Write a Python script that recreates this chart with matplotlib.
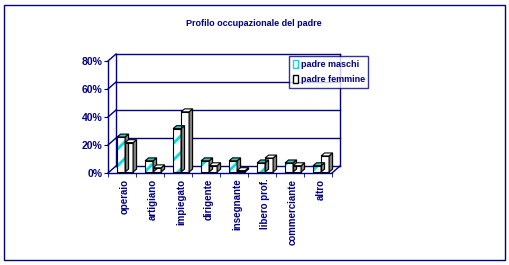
import matplotlib
matplotlib.use('Agg')
import matplotlib.pyplot as plt
from matplotlib.patches import Polygon, Rectangle, Patch

### DATA

categorie = ['operaio', 'artigiano', 'impiegato', 'dirigente', 'insegnante',
             'libero prof.', 'commerciante', 'altro']
padre_maschi = [25, 8, 31, 8, 8, 6.5, 6.5, 4.5]
padre_femmine = [21, 3, 43, 4.5, 1, 10, 4.5, 11.5]
yticks = [0, 20, 40, 60, 80]
ylabels = ['0%', '20%', '40%', '60%', '80%']
titolo = 'Profilo occupazionale del padre'
serie = ['padre maschi', 'padre femmine']

### STYLE

navy = '#000080'
plt.rcParams['font.family'] = ['Liberation Sans', 'DejaVu Sans']
plt.rcParams['font.weight'] = 'bold'
plt.rcParams['hatch.linewidth'] = 2.0

W, H = 509, 265
fig = plt.figure(figsize=(W / 100, H / 100), dpi=100)
fig.patches.append(Rectangle((4 / W, 5 / H), 501 / W, 255 / H, transform=fig.transFigure,
                             fill=False, edgecolor=navy, lw=1))

ax = fig.add_axes([108 / W, 1 - 173 / H, 224 / W, 112 / H])
ax.set_xlim(0, len(categorie))
ax.set_ylim(0, 80)
ax.patch.set_visible(False)

# depth of the fake 3D box (data units)
dx, dy = 8 / 28, 7 / 1.4
n = len(categorie)

# back wall, grid and side wall connectors
for y in yticks:
    ax.plot([dx, n + dx], [y + dy, y + dy], color=navy, lw=1, clip_on=False, zorder=1)
    ax.plot([0, dx], [y, y + dy], color=navy, lw=1, clip_on=False, zorder=1)
ax.plot([dx, dx], [dy, 80 + dy], color=navy, lw=1, clip_on=False, zorder=1)
ax.plot([n + dx, n + dx], [dy, 80 + dy], color=navy, lw=1, clip_on=False, zorder=1)
ax.plot([n, n + dx], [0, dy], color=navy, lw=1, clip_on=False, zorder=1)

# bars
w = 0.286
bdx, bdy = 0.125, 2.1
base = 0.7


def bar3d(x, h, hatched):
    if hatched:
        ax.bar(x, h, width=w, bottom=base, align='edge', color='white',
               edgecolor='#00e0e0', hatch='//', lw=0, zorder=3)
    else:
        ax.bar(x, h, width=w, bottom=base, align='edge', color='white', lw=0, zorder=3)
    ax.bar(x, h, width=w, bottom=base, align='edge', fill=False,
           edgecolor='black', lw=0.8, zorder=4)
    top = base + h
    ax.add_patch(Polygon([(x + w, base), (x + w + bdx, base + bdy),
                          (x + w + bdx, top + bdy), (x + w, top)],
                         closed=True, facecolor='#808080', edgecolor='black',
                         lw=0.8, zorder=4, clip_on=False))
    ax.add_patch(Polygon([(x, top), (x + bdx, top + bdy), (x + w + bdx, top + bdy), (x + w, top)],
                         closed=True, facecolor='#40c0c0' if hatched else 'white',
                         edgecolor='black', lw=0.8, zorder=4, clip_on=False))


for i in range(n):
    c = i + 0.61
    bar3d(c - w, padre_maschi[i], True)
    bar3d(c, padre_femmine[i], False)

# axes
for s in ['top', 'right']:
    ax.spines[s].set_visible(False)
for s in ['left', 'bottom']:
    ax.spines[s].set_color(navy)
    ax.spines[s].set_linewidth(1)

ax.set_yticks(yticks)
ax.set_yticklabels(ylabels, color=navy, fontsize=7.5, fontweight='bold')
ax.tick_params(axis='y', length=3, color=navy, pad=1)

ax.set_xticks([i + 0.61 for i in range(n)])
ax.set_xticklabels(categorie, rotation=90, color=navy, fontsize=7, fontweight='bold')
ax.set_xticks(range(n + 1), minor=True)
ax.tick_params(axis='x', which='major', length=0, pad=4)
ax.tick_params(axis='x', which='minor', length=3, color=navy)

# legend
handles = [Patch(facecolor='white', edgecolor='#00e0e0', hatch='//'),
           Patch(facecolor='white', edgecolor='black')]
leg = fig.legend(handles, serie, loc='upper left', bbox_to_anchor=(289 / W, 1 - 56 / H),
                 frameon=True, fancybox=False, handlelength=0.6, handleheight=1.0,
                 handletextpad=0.3, borderpad=0.4, labelspacing=0.7, fontsize=6.5,
                 borderaxespad=0)
leg.get_frame().set_edgecolor(navy)
leg.get_frame().set_linewidth(1)
for t in leg.get_texts():
    t.set_color(navy)
    t.set_fontweight('bold')

fig.text(254 / W, 1 - 23 / H, titolo, ha='center', va='center', color=navy,
         fontsize=6.5, fontweight='bold')

fig.savefig('out.png', dpi=100)
